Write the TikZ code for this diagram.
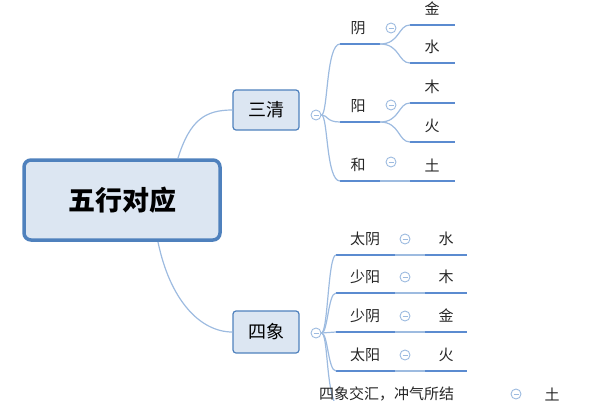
\documentclass[tikz,border=0pt]{standalone}
\usepackage{fontspec}
\setmainfont{Noto Sans CJK SC}
\definecolor{ul}{HTML}{5B8BD0}
\definecolor{br}{HTML}{9DBBE0}
\definecolor{bx}{HTML}{DCE6F2}
\definecolor{bd}{HTML}{4F81BD}
\begin{document}
\begin{tikzpicture}[x=1pt,y=-1pt,
  lbl/.style={font=\fontsize{15}{17}\selectfont,text=black!85,inner sep=1pt},
  und/.style={draw=ul,line width=2.6pt},
  brn/.style={draw=br,line width=1.2pt},
  mk/.style={circle,draw=br,line width=0.9pt,minimum size=10pt,inner sep=0pt,fill=white,
    path picture={\draw[br,line width=0.8pt] ([xshift=-2.5pt]path picture bounding box.center)--([xshift=2.5pt]path picture bounding box.center);}}]
\useasboundingbox (0,0) rectangle (600,400);
% central
\node[draw=bd,line width=3.5pt,fill=bx,rounded corners=7pt,minimum width=196pt,minimum height=80pt,font=\fontsize{27}{30}\selectfont\bfseries] (root) at (122,200) {五行对应};
\node[draw=bd,line width=1.2pt,fill=bx,rounded corners=3pt,minimum width=66pt,minimum height=40pt,font=\fontsize{18}{20}\selectfont] (sq) at (266,110) {三清};
\node[draw=bd,line width=1.2pt,fill=bx,rounded corners=3pt,minimum width=66pt,minimum height=42pt,font=\fontsize{18}{20}\selectfont] (sx) at (266,332) {四象};
\draw[brn] (178,158) .. controls (190,120) and (205,110) .. (sq.west);
\draw[brn] (158,242) .. controls (170,300) and (200,332) .. (sx.west);
\node[mk] (m1) at (316,115) {};
\node[mk] (m2) at (316,333) {};
% 三清 children
\foreach \t/\y/\n in {阴/44/a,阳/122/b,和/181/c}{
  \coordinate (\n1) at (340,\y); \coordinate (\n2) at (380,\y);
  \draw[und] (\n1)--(\n2);
  \node[lbl] at (358,\y-16) {\t};
  \draw[brn] (m1.east) .. controls (328,115) and (326,\y) .. (\n1);
}
\node[mk] at (391,28) {}; \node[mk] at (391,105) {}; \node[mk] at (391,162) {};
\foreach \t/\y/\n in {金/25/p,水/63/q,木/103/r,火/142/s,土/181/t}{
  \coordinate (\n1) at (410,\y); \coordinate (\n2) at (455,\y);
  \draw[und] (\n1)--(\n2);
  \node[lbl] at (432,\y-16) {\t};
}
\draw[brn] (a2) .. controls (400,44) and (398,25) .. (p1);
\draw[brn] (a2) .. controls (400,44) and (398,63) .. (q1);
\draw[brn] (b2) .. controls (400,122) and (398,103) .. (r1);
\draw[brn] (b2) .. controls (400,122) and (398,142) .. (s1);
\draw[brn] (c2) -- (t1);
% 四象 children
\foreach \a/\b/\y/\n in {太阴/水/255/d,少阳/木/293/e,少阴/金/332/f,太阳/火/371/g}{
  \coordinate (\n1) at (336,\y); \coordinate (\n2) at (395,\y);
  \coordinate (\n3) at (425,\y); \coordinate (\n4) at (467,\y);
  \draw[und] (\n1)--(\n2); \draw[und] (\n3)--(\n4);
  \draw[brn] (\n2)--(\n3);
  \node[lbl] at (365,\y-16) {\a};
  \node[mk] at (405,\y-16) {};
  \node[lbl] at (446,\y-16) {\b};
  \draw[brn] (m2.east) .. controls (328,333) and (328,\y) .. (\n1);
}
\coordinate (h1) at (336,405);
\draw[brn] (m2.east) .. controls (328,333) and (326,390) .. (h1);
\node[lbl,anchor=west] at (318,394) {四象交汇，冲气所结};
\node[mk] at (516,394) {};
\node[lbl] at (552,394) {土};
\end{tikzpicture}
\end{document}
